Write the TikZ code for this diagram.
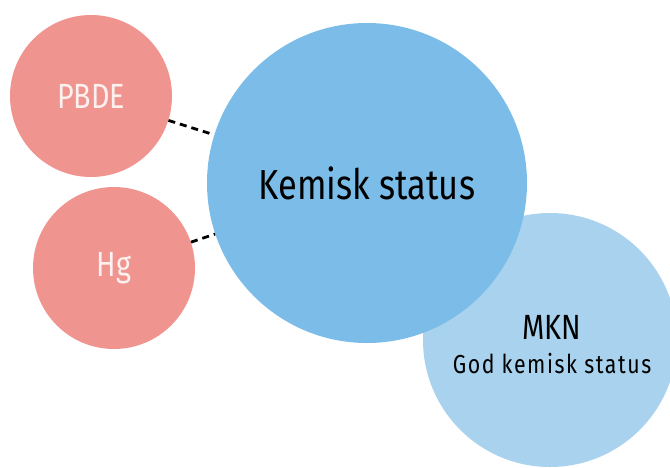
\documentclass[tikz,border=0pt]{standalone}
\usepackage{fontspec}
\setmainfont{Fira Sans}[FakeStretch=0.82]
\definecolor{rosefill}{HTML}{F09490}
\definecolor{rosetext}{HTML}{FDF1EF}
\definecolor{mainblue}{HTML}{7BBDE8}
\definecolor{paleblue}{HTML}{A8D2EE}

\begin{document}
\begin{tikzpicture}[x=1pt,y=-1pt,
  bubble/.style={circle,inner sep=0pt,draw=none},
  pollutant/.style={bubble,fill=rosefill,text=rosetext,minimum size=162pt,font=\fontsize{35}{40}\selectfont},
  link/.style={line width=2.8pt,dash pattern=on 7pt off 5pt}]
\useasboundingbox (0,0) rectangle (670,467);
% goal circle, behind the main one
\node [bubble,fill=paleblue,minimum size=254pt] (mkn) at (550,340) {};
\node [anchor=base,font=\fontsize{35}{40}\selectfont] (mkntitle) at (552,339) {MKN};
\node [anchor=base,font=\fontsize{26}{30}\selectfont\addfontfeature{LetterSpace=6}] (mkntext) at (552,373) {God kemisk status};
% main circle
\node [bubble,fill=mainblue,minimum size=320pt,font=\fontsize{42}{48}\selectfont] (kemisk) at (367,183) {Kemisk status};
% substances
\node [pollutant] (pbde) at (91,96) {PBDE};
\node [pollutant] (hg) at (114,268) {Hg};
\draw [link] (pbde) -- (kemisk);
\draw [link] (hg) -- (kemisk);
\end{tikzpicture}
\end{document}
